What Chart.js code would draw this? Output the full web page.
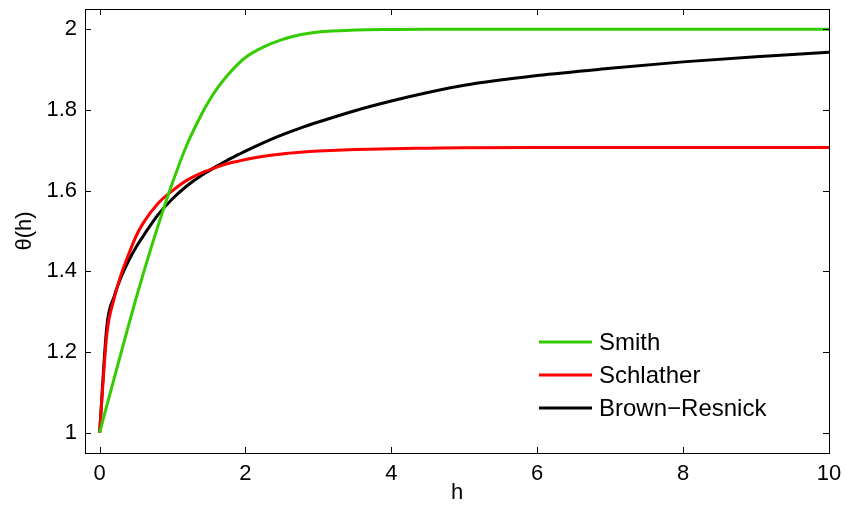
<!DOCTYPE html>
<html>
<head>
<meta charset="utf-8">
<script src="https://cdn.jsdelivr.net/npm/chart.js@4"></script>
<style>
html, body { margin: 0; padding: 0; background: #fff; }
#wrap { width: 845px; height: 510px; }
</style>
</head>
<body>
<div id="wrap"><canvas id="chart"></canvas></div>
<script>
// values
var hValues      = [0, 0.1, 0.2, 0.3, 0.4, 0.5, 0.6, 0.8, 1.0, 1.2, 1.4, 1.5, 1.6, 1.7, 1.8, 1.9, 2.0, 2.25, 2.5, 2.75, 3.0, 3.5, 4.0, 4.5, 5.0, 6.0, 7.0, 8.0, 9.0, 10.0];
var smith        = [1.0, 1.068, 1.135, 1.202, 1.268, 1.333, 1.395, 1.512, 1.62, 1.715, 1.79, 1.822, 1.85, 1.874, 1.895, 1.914, 1.93, 1.956, 1.974, 1.986, 1.993, 1.998, 1.9995, 2.0, 2.0, 2.0, 2.0, 2.0, 2.0, 2.0];
var schlather    = [1.0, 1.245, 1.333, 1.395, 1.443, 1.487, 1.52, 1.568, 1.6, 1.626, 1.644, 1.651, 1.658, 1.664, 1.669, 1.673, 1.677, 1.685, 1.691, 1.695, 1.698, 1.702, 1.704, 1.705, 1.706, 1.707, 1.707, 1.707, 1.707, 1.707];
var brownResnick = [1.0, 1.265, 1.338, 1.388, 1.427, 1.46, 1.488, 1.54, 1.58, 1.612, 1.638, 1.649, 1.66, 1.67, 1.68, 1.689, 1.698, 1.719, 1.738, 1.755, 1.77, 1.798, 1.822, 1.843, 1.861, 1.885, 1.903, 1.919, 1.932, 1.943];

var xTicks = [0, 2, 4, 6, 8, 10];
var yTicks = [1, 1.2, 1.4, 1.6, 1.8, 2];

var seriesNames  = ['Smith', 'Schlather', 'Brown\u2212Resnick'];
var seriesColors = ['#33cc00', '#ff0000', '#000000'];
var seriesValues = [smith, schlather, brownResnick];

var fontFamily = '"Liberation Sans", Arial, Helvetica, sans-serif';

function toPoints(ys) {
    var pts = [];
    for (var i = 0; i < hValues.length; i++) {
        pts.push({ x: hValues[i], y: ys[i] });
    }
    return pts;
}

var datasets = [];
for (var s = 0; s < seriesNames.length; s++) {
    datasets.push({
        label: seriesNames[s],
        data: toPoints(seriesValues[s]),
        borderColor: seriesColors[s],
        borderWidth: 3,
        pointRadius: 0,
        fill: false,
        cubicInterpolationMode: 'monotone'
    });
}

// box round the plot with inward tick marks on all four sides
var frameTicks = {
    id: 'frameTicks',
    afterDraw: function (chart) {
        var ctx = chart.ctx;
        var a = chart.chartArea;
        var xs = chart.scales.x, ys = chart.scales.y;
        var len = 6;
        ctx.save();
        ctx.strokeStyle = '#000';
        ctx.lineWidth = 1;
        ctx.beginPath();
        xTicks.forEach(function (v) {
            var px = Math.round(xs.getPixelForValue(v)) + 0.5;
            ctx.moveTo(px, a.bottom); ctx.lineTo(px, a.bottom - len);
            ctx.moveTo(px, a.top); ctx.lineTo(px, a.top + len);
        });
        yTicks.forEach(function (v) {
            var py = Math.round(ys.getPixelForValue(v)) + 0.5;
            ctx.moveTo(a.left, py); ctx.lineTo(a.left + len, py);
            ctx.moveTo(a.right, py); ctx.lineTo(a.right - len, py);
        });
        ctx.stroke();
        ctx.strokeRect(Math.round(a.left) + 0.5, Math.round(a.top) + 0.5,
                       Math.round(a.right - a.left), Math.round(a.bottom - a.top));
        ctx.restore();
    }
};

// legend inside the plot, bottom right, no box
var insideLegend = {
    id: 'insideLegend',
    afterDraw: function (chart) {
        var ctx = chart.ctx;
        var a = chart.chartArea;
        var x0 = a.right - 290, y0 = a.bottom - 111;
        ctx.save();
        ctx.font = '24px ' + fontFamily;
        ctx.textBaseline = 'middle';
        ctx.textAlign = 'left';
        chart.data.datasets.forEach(function (ds, i) {
            var y = y0 + i * 33;
            ctx.strokeStyle = ds.borderColor;
            ctx.lineWidth = 3;
            ctx.beginPath();
            ctx.moveTo(x0, y);
            ctx.lineTo(x0 + 53, y);
            ctx.stroke();
            ctx.fillStyle = '#000';
            ctx.fillText(ds.label, x0 + 60, y + 1);
        });
        ctx.restore();
    }
};

function noScalePadding(scale) {
    scale.paddingTop = 0;
    scale.paddingBottom = 0;
    scale.paddingLeft = 0;
    scale.paddingRight = 0;
}

var chart = new Chart(document.getElementById('chart'), {
    type: 'line',
    data: { datasets: datasets },
    options: {
        responsive: true,
        maintainAspectRatio: false,
        animation: false,
        devicePixelRatio: 1,
        layout: { padding: { top: 9, right: 16, left: 0, bottom: 0 } },
        plugins: {
            legend: { display: false },
            tooltip: { enabled: false }
        },
        scales: {
            x: {
                type: 'linear',
                min: -0.2,
                max: 10,
                afterBuildTicks: function (scale) {
                    scale.ticks = xTicks.map(function (v) { return { value: v }; });
                },
                afterFit: function (scale) { scale.height = 57; noScalePadding(scale); },
                grid: { display: false, drawTicks: false },
                border: { display: false },
                ticks: {
                    padding: 8,
                    color: '#000',
                    font: { family: fontFamily, size: 22 },
                    maxRotation: 0,
                    callback: function (v) { return String(v); }
                },
                title: {
                    display: true,
                    text: 'h',
                    color: '#000',
                    font: { family: fontFamily, size: 22 },
                    padding: { top: 0, bottom: 4 }
                }
            },
            y: {
                type: 'linear',
                min: 0.95,
                max: 2.05,
                afterBuildTicks: function (scale) {
                    scale.ticks = yTicks.map(function (v) { return { value: v }; });
                },
                afterFit: function (scale) { scale.width = 85; noScalePadding(scale); },
                grid: { display: false, drawTicks: false },
                border: { display: false },
                ticks: {
                    padding: 8,
                    color: '#000',
                    font: { family: fontFamily, size: 22 },
                    callback: function (v) { return String(v); }
                },
                title: {
                    display: true,
                    text: '\u03b8(h)',
                    color: '#000',
                    font: { family: fontFamily, size: 22 },
                    padding: { top: 12, bottom: 0 }
                }
            }
        }
    },
    plugins: [frameTicks, insideLegend]
});
</script>
</body>
</html>
